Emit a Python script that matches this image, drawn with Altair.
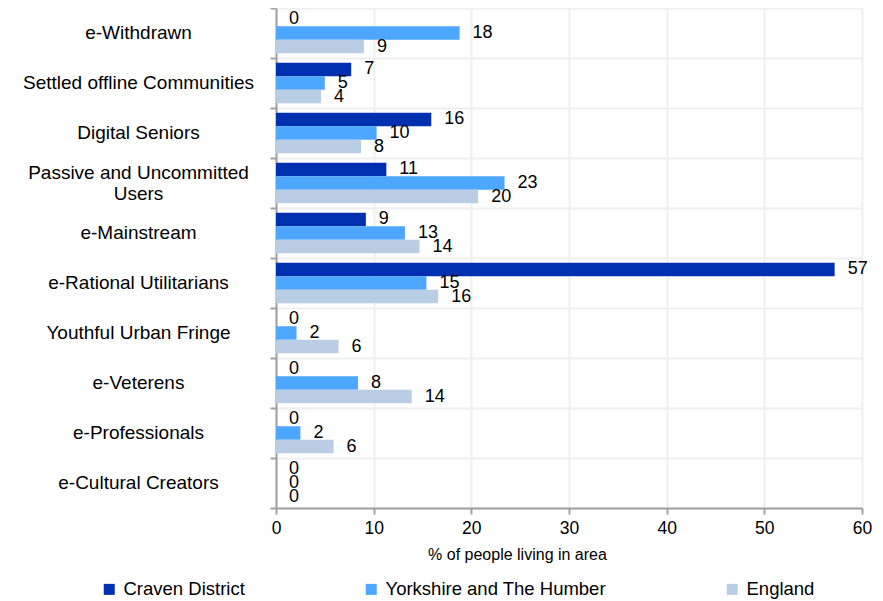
import altair as alt
import pandas as pd

categories = [
    "e-Withdrawn",
    "Settled offline Communities",
    "Digital Seniors",
    "Passive and Uncommitted Users",
    "e-Mainstream",
    "e-Rational Utilitarians",
    "Youthful Urban Fringe",
    "e-Veterens",
    "e-Professionals",
    "e-Cultural Creators",
]
series = ["Craven District", "Yorkshire and The Humber", "England"]

craven = [0, 7.7, 15.9, 11.3, 9.2, 57.2, 0, 0, 0, 0]
yorkshire = [18.8, 5.0, 10.3, 23.4, 13.2, 15.4, 2.1, 8.4, 2.5, 0]
england = [9.0, 4.6, 8.7, 20.7, 14.7, 16.6, 6.4, 13.9, 5.9, 0]

craven_labels = [0, 7, 16, 11, 9, 57, 0, 0, 0, 0]
yorkshire_labels = [18, 5, 10, 23, 13, 15, 2, 8, 2, 0]
england_labels = [9, 4, 8, 20, 14, 16, 6, 14, 6, 0]

x_ticks = [0, 10, 20, 30, 40, 50, 60]
colors = ["#0030b0", "#4da6ff", "#b9cde5"]

rows = []
for s, vals, labs in zip(series, [craven, yorkshire, england],
                         [craven_labels, yorkshire_labels, england_labels]):
    for c, v, l in zip(categories, vals, labs):
        rows.append({"category": c, "series": s, "value": v, "label": str(l)})
df = pd.DataFrame(rows)

FONT = "Liberation Sans"
MULTI = "Passive and Uncommitted Users"

y_enc = alt.Y(
    "category:N",
    sort=categories,
    scale=alt.Scale(paddingInner=0, paddingOuter=0),
    axis=alt.Axis(
        title=None,
        tickBand="extent",
        grid=True,
        gridColor="#efefef",
        gridWidth=2,
        domainColor="#a0a0a0",
        domainWidth=2,
        tickColor="#a0a0a0",
        tickWidth=2,
        tickSize=6,
        labelFont=FONT,
        labelFontSize=19,
        labelColor="#000000",
        labelAlign="center",
        labelBaseline="middle",
        labelPadding=132,
        labelLimit=400,
        labelLineHeight=21,
        labelOffset={"condition": {"test": f"datum.value == '{MULTI}'", "value": -11}, "value": -1},
        labelExpr=f"datum.value == '{MULTI}' ? ['Passive and Uncommitted', 'Users'] : datum.label",
    ),
)
yoff_enc = alt.YOffset(
    "series:N", sort=series,
    scale=alt.Scale(paddingOuter=0.35, paddingInner=0),
)
x_enc = alt.X(
    "value:Q",
    scale=alt.Scale(domain=[0, 60], nice=False),
    axis=alt.Axis(
        values=x_ticks,
        title="% of  people living in area",
        titleFont=FONT,
        titleFontSize=16,
        titleFontWeight="normal",
        titleColor="#000000",
        titleX=241,
        titleY=51,
        titleAlign="center",
        titleBaseline="alphabetic",
        grid=True,
        gridColor="#efefef",
        gridWidth=2,
        domainColor="#a0a0a0",
        domainWidth=2,
        tickColor="#a0a0a0",
        tickWidth=2,
        tickSize=6,
        labelFont=FONT,
        labelFontSize=17.5,
        labelColor="#000000",
        labelPadding=5,
        labelFlush=False,
    ),
)

bars = alt.Chart(df).mark_bar(size=13.5).encode(
    y=y_enc,
    yOffset=yoff_enc,
    x=x_enc,
    color=alt.Color(
        "series:N",
        sort=series,
        scale=alt.Scale(domain=series, range=colors),
        legend=alt.Legend(
            title=None,
            orient="none",
            direction="horizontal",
            legendX=-176,
            legendY=572,
            symbolType="square",
            symbolSize=121,
            symbolStrokeWidth=0,
            labelFont=FONT,
            labelFontSize=18.5,
            labelColor="#000000",
            labelOffset=5,
            columnPadding=117,
            padding=0,
            labelLimit=400,
        ),
    ),
)

texts = alt.Chart(df).mark_text(
    align="left", baseline="middle", dx=13, font=FONT, fontSize=18, color="#000000"
).encode(
    y=alt.Y("category:N", sort=categories),
    yOffset=alt.YOffset("series:N", sort=series),
    x=alt.X("value:Q"),
    text="label:N",
)

chart = alt.layer(bars, texts).properties(
    width=586,
    height=500,
    autosize=alt.AutoSizeParams(type="none"),
    padding={"left": 268, "top": 0, "right": 13, "bottom": 92},
).configure_view(stroke=None).configure(background="#ffffff")

chart.save("out.html", embed_options={"renderer": "svg", "actions": False})
